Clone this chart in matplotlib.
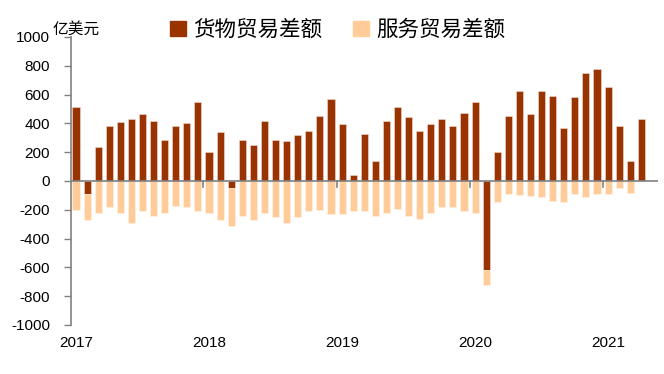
import matplotlib
matplotlib.use("Agg")
import matplotlib.pyplot as plt
from matplotlib.patches import Patch
import numpy as np

plt.rcParams['font.family'] = ['Liberation Sans', 'Noto Sans CJK SC', 'DejaVu Sans']

months = [f"{y}-{m:02d}" for y in range(2017, 2022) for m in range(1, 13)][:52]
goods = [514, -91, 237, 379, 407, 428, 465, 419, 284, 381, 402, 547,
         202, 340, -47, 284, 249, 416, 284, 279, 319, 349, 449, 570,
         393, 40, 328, 142, 416, 512, 444, 347, 395, 430, 379, 472,
         547, -621, 198, 451, 628, 465, 626, 591, 370, 584, 753, 781,
         653, 379, 140, 430]
services = [-202, -181, -219, -181, -223, -295, -209, -244, -223, -177, -181, -207,
            -219, -272, -265, -240, -274, -221, -253, -291, -249, -207, -200, -226,
            -228, -205, -205, -242, -221, -195, -244, -263, -219, -179, -184, -207,
            -219, -102, -144, -91, -98, -105, -109, -137, -144, -93, -109, -88,
            -91, -47, -86, 0]
year_labels = ["2017", "2018", "2019", "2020", "2021"]
yticks = [-1000, -800, -600, -400, -200, 0, 200, 400, 600, 800, 1000]

goods_c = "#993300"
serv_c = "#FFCC99"

fig = plt.figure(figsize=(6.64, 3.74), dpi=100)
ax = fig.add_axes([71/664, 1-325/374, (658-71)/664, (325-37)/374])

x = np.arange(len(goods))
g = np.array(goods, dtype=float)
s = np.array(services, dtype=float)
bottom_s = np.where(g < 0, g, 0)
w = 0.64
ax.bar(x, g, width=w, color=goods_c, edgecolor="#f3dcd6", linewidth=0.4, zorder=2)
ax.bar(x, s, width=w, bottom=bottom_s, color=serv_c, edgecolor="#fff3e8", linewidth=0.4, zorder=2)

ax.set_xlim(-0.45, 52.5)
ax.set_ylim(-1000, 1000)
ax.set_yticks(yticks)
ax.set_yticklabels([str(v) for v in yticks], fontsize=11)
ax.tick_params(axis='y', direction='out', length=5, width=1, color='#808080', pad=10)

for sp in ['top', 'right', 'bottom']:
    ax.spines[sp].set_visible(False)
ax.spines['left'].set_color('#808080')
ax.spines['left'].set_linewidth(1.2)

# zero line with year ticks
ax.axhline(0, color='#808080', linewidth=1.2, zorder=3)
ax.set_xticks([])
for i in range(1, len(year_labels)):
    xb = 12 * i - 0.5
    ax.plot([xb, xb], [0, -40], color='#808080', linewidth=1.2, zorder=3, clip_on=False)
for i, lab in enumerate(year_labels):
    ax.text(12 * i, -1075, lab, ha='center', va='top', fontsize=11)

fig.text(53/664, 1-29.5/374, "亿美元", fontsize=11.3, ha='left', va='center',
         family=['Noto Sans CJK SC', 'DejaVu Sans'])

handles = [Patch(color=goods_c), Patch(color=serv_c)]
leg = fig.legend(handles, ["货物贸易差额", "服务贸易差额"], loc='center left',
                 bbox_to_anchor=(170/664, 1-30/374), ncol=2, frameon=False,
                 borderpad=0, borderaxespad=0,
                 prop={'family': ['Noto Sans CJK SC', 'DejaVu Sans'], 'size': 15.5},
                 handlelength=0.75, handleheight=0.75, handletextpad=0.35, columnspacing=1.4)

fig.savefig("out.png", dpi=100)
